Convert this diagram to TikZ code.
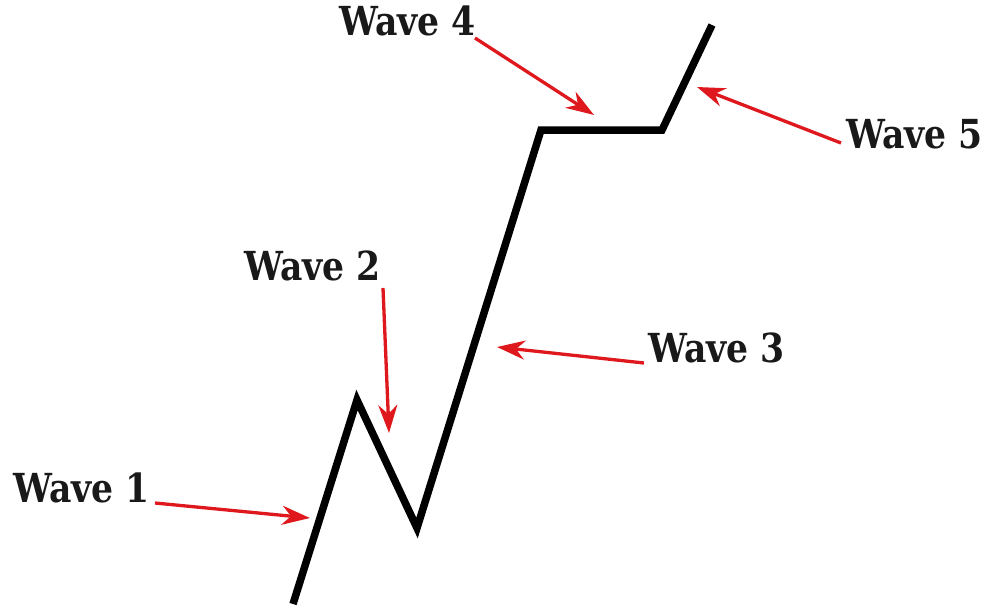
\documentclass[tikz,border=0pt]{standalone}
\usepackage{fontspec}
\newfontfamily\wavefont{DejaVu Serif}[FakeStretch=0.865]
\usetikzlibrary{arrows.meta}
\definecolor{wavered}{RGB}{222,24,28}
\tikzset{
  wavelabel/.style={anchor=base west, inner sep=0pt, font=\wavefont\bfseries\fontsize{40}{44}\selectfont, text=black!90},
  pointer/.style={draw=wavered, line width=3.3pt, -{Stealth[length=28pt,width=19pt,inset=9pt]}},
  waveline/.style={draw=black, line width=7.5pt}
}
\begin{document}
\begin{tikzpicture}[x=1pt,y=-1pt]
\useasboundingbox (0,0) rectangle (985,611);
% wave path points
\coordinate (p0) at (293,604);
\coordinate (p1) at (357,400);
\coordinate (p2) at (417,528);
\coordinate (p3) at (541,130);
\coordinate (p4) at (662,130);
\coordinate (p5) at (712,25);
\draw[waveline] (p0) -- (p1) -- (p2) -- (p3) -- (p4) -- (p5);
% labels
\node[wavelabel] (w1) at (13,502) {Wave 1};
\node[wavelabel] (w2) at (244,280) {Wave 2};
\node[wavelabel] (w3) at (648,362) {Wave 3};
\node[wavelabel] (w4) at (339,35) {Wave 4};
\node[wavelabel] (w5) at (846,148) {Wave 5};
% arrow ends
\coordinate (t1) at (155,503);
\coordinate (h1) at (310,518);
\coordinate (t2) at (383,288);
\coordinate (h2) at (389,433);
\coordinate (t3) at (644,363);
\coordinate (h3) at (497,347);
\coordinate (t4) at (475,38);
\coordinate (h4) at (594,115);
\coordinate (t5) at (841,143);
\coordinate (h5) at (697,87);
\draw[pointer] (t1) -- (h1);
\draw[pointer] (t2) -- (h2);
\draw[pointer] (t3) -- (h3);
\draw[pointer] (t4) -- (h4);
\draw[pointer] (t5) -- (h5);
\end{tikzpicture}
\end{document}
